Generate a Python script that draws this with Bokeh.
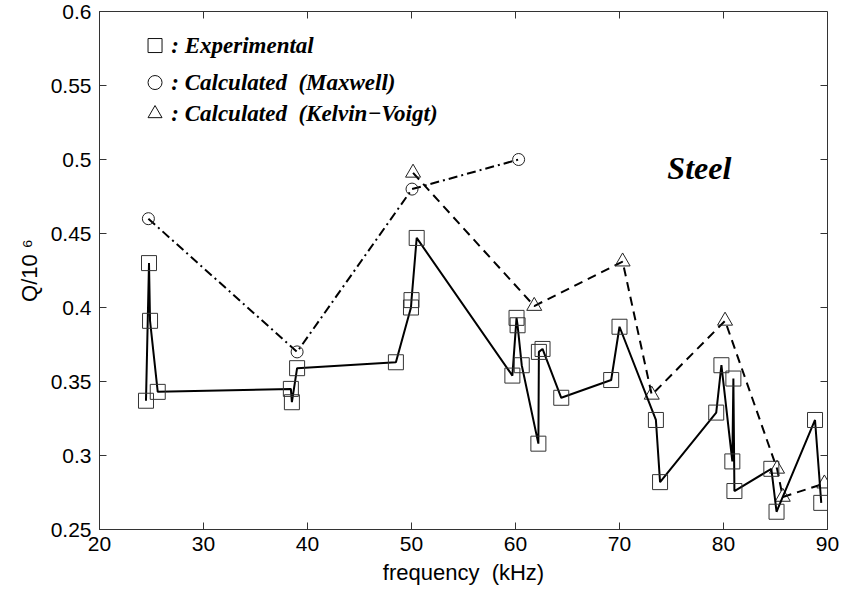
from bokeh.plotting import figure
from bokeh.models import FixedTicker, Range1d
from bokeh.embed import file_html
from bokeh.resources import INLINE
from bokeh.core.properties import value

# ---- data ----
exp_freq = [24.47, 24.76, 24.86, 25.6, 38.4, 38.5, 39.0, 48.5, 49.95, 50.0, 50.5,
            59.7, 60.1, 60.2, 60.6, 62.2, 62.25, 62.6, 64.4, 69.2, 70.0, 73.5, 73.9,
            79.3, 79.8, 80.85, 80.95, 81.05, 84.6, 85.1, 88.8, 89.4]
exp_q = [0.337, 0.430, 0.391, 0.343, 0.345, 0.336, 0.359, 0.363, 0.400, 0.405, 0.447,
         0.354, 0.393, 0.388, 0.361, 0.308, 0.370, 0.372, 0.339, 0.351, 0.387, 0.324, 0.282,
         0.329, 0.361, 0.296, 0.352, 0.276, 0.291, 0.262, 0.324, 0.268]

maxwell_freq = [24.7, 39.0, 50.05, 60.3]
maxwell_q = [0.460, 0.370, 0.480, 0.500]

kv_freq = [50.15, 61.8, 70.3, 73.1, 80.15, 85.15, 85.7, 89.7]
kv_q = [0.491, 0.401, 0.431, 0.341, 0.391, 0.291, 0.272, 0.281]

x_ticks = [20, 30, 40, 50, 60, 70, 80, 90]
x_tick_labels = ["20", "30", "40", "50", "60", "70", "80", "90"]
y_ticks = [0.25, 0.3, 0.35, 0.4, 0.45, 0.5, 0.55, 0.6]
y_tick_labels = ["0.25", "0.3", "0.35", "0.4", "0.45", "0.5", "0.55", "0.6"]

NB = "\u00a0"
legend_labels = [": Experimental",
                 ": Calculated" + NB + NB + "(Maxwell)",
                 ": Calculated" + NB + NB + "(Kelvin\u2212Voigt)"]

AX = "#333333"
SANS = "Liberation Sans"
SERIF = "Liberation Serif"

X0, X1 = 20, 90
Y0, Y1 = 0.25, 0.6

p = figure(width=841, height=598, x_range=Range1d(X0, X1), y_range=Range1d(Y0, Y1),
           output_backend="svg", toolbar_location=None,
           min_border_left=99, min_border_right=14, min_border_top=11, min_border_bottom=69)
p.xgrid.visible = False
p.ygrid.visible = False
p.outline_line_color = AX
p.outline_line_width = 1
p.background_fill_color = "white"
p.border_fill_color = "white"

xa = p.below[0]
ya = p.left[0]
xa.ticker = FixedTicker(ticks=x_ticks)
xa.major_label_overrides = {t: l for t, l in zip(x_ticks, x_tick_labels)}
ya.ticker = FixedTicker(ticks=y_ticks)
ya.major_label_overrides = {t: l for t, l in zip(y_ticks, y_tick_labels)}

for ax in (xa, ya):
    ax.axis_line_color = AX
    ax.axis_line_width = 1
    ax.major_tick_line_color = AX
    ax.major_tick_in = 7
    ax.major_tick_out = 0
    ax.minor_tick_line_color = None
    ax.major_label_text_font = SANS
    ax.major_label_text_font_size = "21px"
    ax.major_label_text_color = "black"
    ax.axis_label_text_font = SANS
    ax.axis_label_text_font_size = "22px"
    ax.axis_label_text_font_style = "normal"
    ax.axis_label_text_color = "black"
    ax.axis_label_standoff = 6

xa.major_label_standoff = 7
ya.major_label_standoff = 8
xa.axis_label = "frequency" + NB + NB + "(kHz)"
ya.axis_label = "Q/10" + NB + "\u2076"

# inner ticks on the top and right edges of the box
tick_dy = (Y1 - Y0) / 518 * 7
tick_dx = (X1 - X0) / 728 * 7
p.segment(x0=x_ticks, y0=[Y1] * len(x_ticks), x1=x_ticks, y1=[Y1 - tick_dy] * len(x_ticks),
          line_color=AX, line_width=1)
p.segment(x0=[X1] * len(y_ticks), y0=y_ticks, x1=[X1 - tick_dx] * len(y_ticks), y1=y_ticks,
          line_color=AX, line_width=1)

# series
p.line(maxwell_freq, maxwell_q, line_color="black", line_width=2, line_dash="9 4 2 4")
p.scatter(maxwell_freq, maxwell_q, marker="circle", size=12, fill_color=None,
          line_color="#222222", line_width=1)

p.line(kv_freq, kv_q, line_color="black", line_width=2, line_dash="9 6")
p.scatter(kv_freq, kv_q, marker="triangle", size=15, fill_color=None,
          line_color="#222222", line_width=1)

p.line(exp_freq, exp_q, line_color="black", line_width=2)
p.scatter(exp_freq, exp_q, marker="square", size=15, fill_color=None,
          line_color="#333333", line_width=1)

# legend (drawn as marker + text)
leg_x = 25.34
leg_tx = 26.9
leg_y = [0.577, 0.552, 0.531]
for m, yy in zip(["square", "circle", "triangle"], leg_y):
    p.scatter([leg_x], [yy], marker=m, size=14, fill_color=None, line_color="#111111", line_width=1)
p.text(x=[leg_tx] * 3, y=leg_y, text=legend_labels, text_font=value(SERIF),
       text_font_size="23px", text_font_style="bold italic", text_color="black",
       text_baseline="middle", text_align="left")

p.text(x=[74.6], y=[0.494], text=["Steel"], text_font=value(SERIF),
       text_font_size="32px", text_font_style="bold italic", text_color="black",
       text_baseline="middle", text_align="left")

open("out.html", "w").write(file_html(p, INLINE))
